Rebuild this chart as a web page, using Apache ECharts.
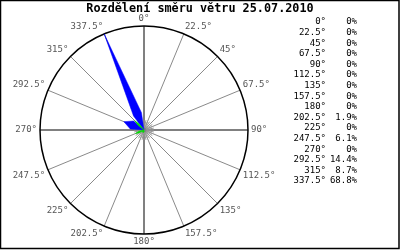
<!DOCTYPE html>
<html>
<head>
<meta charset="utf-8">
<script src="https://cdn.jsdelivr.net/npm/echarts@6/dist/echarts.min.js"></script>
<style>html,body{margin:0;padding:0;background:#fff}#c{width:400px;height:250px}</style>
</head>
<body>
<div id="c"></div>
<script>
const titleText = 'Rozdělení směru větru 25.07.2010';
const directions = [0, 22.5, 45, 67.5, 90, 112.5, 135, 157.5, 180, 202.5, 225, 247.5, 270, 292.5, 315, 337.5];
const tickLabels = ['0°', '22.5°', '45°', '67.5°', '90°', '112.5°', '135°', '157.5°', '180°', '202.5°', '225°', '247.5°', '270°', '292.5°', '315°', '337.5°'];
const percents = [0, 0, 0, 0, 0, 0, 0, 0, 0, 1.9, 0, 6.1, 0, 14.4, 8.7, 68.8];
const percentLabels = ['0%', '0%', '0%', '0%', '0%', '0%', '0%', '0%', '0%', '1.9%', '0%', '6.1%', '0%', '14.4%', '8.7%', '68.8%'];

const chart = echarts.init(document.getElementById('c'), null, {renderer: 'canvas'});
const CX = 144, CY = 130, R = 104;
const mono = 'DejaVu Sans Mono';

const legs = directions.map((d, i) => [percents[i], d]).filter(p => p[0] > 0);
const bigLegs = legs.filter(p => p[0] >= 10);
const smallLegs = legs.filter(p => p[0] < 10);

function legRenderer(color, hwMax) {
  return function (params, api) {
    const val = api.value(0), ang = api.value(1);
    const c = api.coord([0, ang]);
    const t = api.coord([val, ang]);
    const dx = t[0] - c[0], dy = t[1] - c[1];
    const L = Math.sqrt(dx * dx + dy * dy) || 1;
    const ux = dx / L, uy = dy / L;
    const d = Math.min(17, L * 0.6);
    const hw = hwMax;
    const mx = c[0] + ux * d, my = c[1] + uy * d;
    const px = -uy * hw, py = ux * hw;
    return {
      type: 'polygon',
      shape: {points: [[c[0], c[1]], [mx + px, my + py], [t[0], t[1]], [mx - px, my - py]]},
      style: {fill: color, stroke: color, lineWidth: 0.5}
    };
  };
}

const graphics = [
  {type: 'rect', shape: {x: 0.5, y: 0.5, width: 398.5, height: 248}, style: {fill: null, stroke: '#000', lineWidth: 1.5}, z: 100},
  {type: 'text', x: 200, y: 9, style: {text: titleText, font: 'bold 11.8px "' + mono + '"', fill: '#000', align: 'center', verticalAlign: 'middle'}}
];
directions.forEach((d, i) => {
  const y = 22 + i * 10.6;
  graphics.push({type: 'text', x: 326, y: y, style: {text: tickLabels[i], font: '9px "' + mono + '"', fill: '#000', align: 'right', verticalAlign: 'middle'}});
  graphics.push({type: 'text', x: 357, y: y, style: {text: percentLabels[i], font: '9px "' + mono + '"', fill: '#000', align: 'right', verticalAlign: 'middle'}});
});

const maxP = Math.max(...percents);

chart.setOption({
  animation: false,
  backgroundColor: '#fff',
  graphic: graphics,
  polar: [
    {center: [CX, CY], radius: R},
    {center: [CX, CY], radius: R},
    {center: [CX, CY], radius: 10}
  ],
  angleAxis: [
    {
      polarIndex: 0, type: 'value', min: 0, max: 360, interval: 22.5, startAngle: 90, clockwise: true,
      axisLine: {show: true, lineStyle: {color: '#000', width: 1.5}},
      axisTick: {show: false},
      axisLabel: {
        show: true, margin: 3, color: '#555', fontFamily: mono, fontSize: 9,
        formatter: v => { const i = directions.indexOf(v); return i >= 0 ? tickLabels[i] : ''; }
      },
      splitLine: {show: true, lineStyle: {color: '#8a8a8a', width: 1}}
    },
    {
      polarIndex: 1, type: 'value', min: 0, max: 360, interval: 90, startAngle: 90, clockwise: true,
      axisLine: {show: false}, axisTick: {show: false}, axisLabel: {show: false},
      splitLine: {show: true, lineStyle: {color: '#808080', width: 2}}
    },
    {
      polarIndex: 2, type: 'value', min: 0, max: 360, interval: 11.25, startAngle: 90, clockwise: true,
      axisLine: {show: false}, axisTick: {show: false}, axisLabel: {show: false},
      splitLine: {show: true, lineStyle: {color: '#999', width: 1}}
    }
  ],
  radiusAxis: [
    {polarIndex: 0, type: 'value', min: 0, max: maxP, show: false},
    {polarIndex: 1, type: 'value', min: 0, max: maxP, show: false},
    {polarIndex: 2, type: 'value', min: 0, max: maxP, show: false}
  ],
  series: [
    {type: 'custom', coordinateSystem: 'polar', polarIndex: 0, data: bigLegs, renderItem: legRenderer('#0000ff', 4.3), z: 5, silent: true},
    {type: 'custom', coordinateSystem: 'polar', polarIndex: 0, data: smallLegs, renderItem: legRenderer('#00dd00', 0.9), z: 6, silent: true},
    {type: 'scatter', coordinateSystem: 'polar', polarIndex: 0, data: [[0, 0]], symbolSize: 5, itemStyle: {color: '#808080'}, z: 4, silent: true}
  ]
});
</script>
</body>
</html>
